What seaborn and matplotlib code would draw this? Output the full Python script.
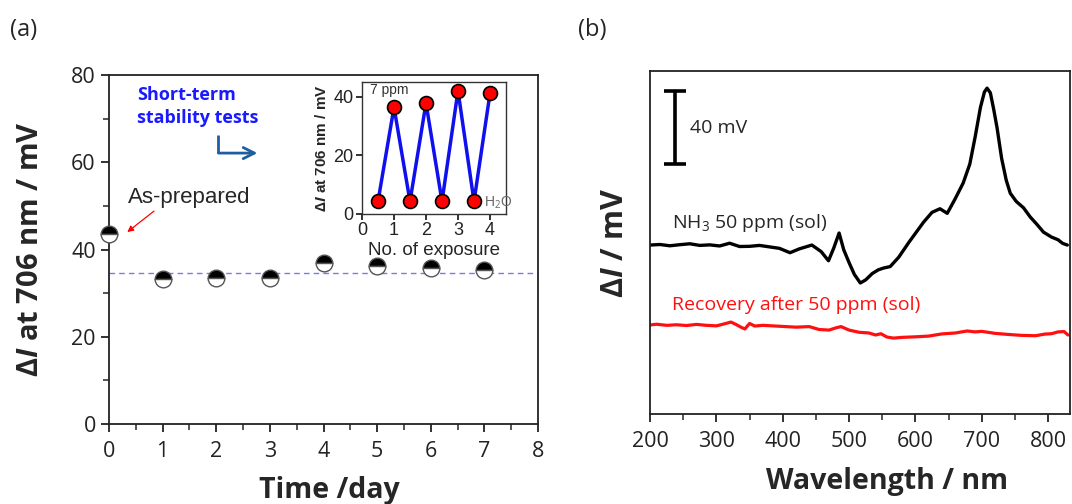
import matplotlib
matplotlib.use("Agg")
import matplotlib.pyplot as plt
import seaborn as sns
import numpy as np
import pandas as pd

# ---------------- data ----------------
days = [0, 1, 2, 3, 4, 5, 6, 7]
delta_I = [43.5, 33.2, 33.4, 33.5, 36.8, 36.2, 35.7, 35.4]
delta_I_err = [1.2, 1.0, 1.0, 1.0, 1.1, 1.1, 1.0, 1.0]
mean_level = 34.7

exposure = [0.5, 1.0, 1.5, 2.0, 2.5, 3.0, 3.5, 4.0]
inset_dI = [4.3, 36.4, 4.3, 37.8, 4.3, 42.0, 4.3, 41.1]

wl_nh3 = [200, 215, 230, 245, 260, 275, 290, 305, 320, 335, 350, 365, 380, 395, 411,
          425, 444, 458, 469, 477, 485, 492, 500, 508, 517, 525, 535, 544, 552, 562,
          575, 590, 600, 612, 625, 637, 648, 660, 672, 682, 690, 698, 704, 708, 713,
          718, 723, 730, 737, 743, 752, 763, 773, 783, 793, 805, 815, 822, 829]
sig_nh3 = [92.6, 92.9, 92.2, 92.8, 93.3, 92.4, 92.7, 92.1, 93.6, 91.8, 91.9, 92.4, 91.6, 90.8, 88.4,
           90.5, 92.6, 89.0, 84.0, 91.0, 99.2, 90.0, 83.0, 76.5, 71.8, 73.5, 77.0, 79.0, 80.0, 80.8,
           86.0, 94.0, 99.0, 105.0, 110.5, 112.5, 110.0, 118.0, 126.6, 137.0, 151.8, 168.0, 176.5, 178.6, 176.0,
           167.0, 157.0, 140.0, 128.0, 121.0, 116.5, 113.0, 108.0, 104.0, 99.7, 97.0, 95.5, 93.5, 92.6]

wl_rec = [200, 210, 225, 240, 255, 270, 285, 300, 312, 322, 330, 337, 343, 350, 358,
          370, 385, 400, 420, 440, 455, 470, 480, 488, 500, 515, 530, 540, 548, 557,
          567, 580, 600, 620, 640, 660, 678, 690, 700, 720, 740, 760, 781, 795, 805,
          815, 824, 830]
sig_rec = [48.8, 49.2, 48.6, 48.9, 48.5, 49.1, 48.6, 48.3, 49.4, 50.4, 49.0, 47.6, 46.6, 49.6, 48.2,
           48.6, 48.3, 48.0, 47.6, 47.9, 46.3, 46.0, 47.2, 47.9, 46.0, 44.8, 44.4, 43.3, 44.0, 42.2,
           41.6, 42.0, 42.3, 42.7, 43.9, 44.4, 45.5, 45.0, 45.3, 44.2, 43.6, 43.1, 42.9, 43.8, 44.0,
           45.0, 45.2, 43.3]

# ---------------- style ----------------
sns.set_theme(style="ticks")
plt.rcParams["font.family"] = ["Open Sans", "DejaVu Sans"]
plt.rcParams["mathtext.fontset"] = "custom"
plt.rcParams["mathtext.rm"] = "Open Sans"
plt.rcParams["mathtext.it"] = "Open Sans:italic"
plt.rcParams["mathtext.bf"] = "Open Sans:bold"
plt.rcParams["mathtext.bfit"] = "Open Sans:bold:italic"
plt.rcParams["axes.linewidth"] = 1.3
plt.rcParams["xtick.major.width"] = 1.3
plt.rcParams["ytick.major.width"] = 1.3
plt.rcParams["xtick.minor.width"] = 1.1
plt.rcParams["ytick.minor.width"] = 1.1

W, H = 1072, 504
fig = plt.figure(figsize=(W / 100, H / 100), dpi=100)

def px_axes(x0, y0, x1, y1):
    return [x0 / W, 1 - y1 / H, (x1 - x0) / W, (y1 - y0) / H]

ax1 = fig.add_axes(px_axes(109, 75, 538, 424))
ax2 = fig.add_axes(px_axes(650, 71, 1070, 414))
axin = fig.add_axes(px_axes(362, 82, 506, 214))

# ---------------- panel (a) ----------------
df_a = pd.DataFrame({"day": days, "dI": delta_I, "err": delta_I_err})
eb = ax1.errorbar(df_a["day"], df_a["dI"], yerr=df_a["err"], fmt="none",
                  ecolor="#9a9a9a", elinewidth=1.0, capsize=3, capthick=1.0, zorder=2)
for art in eb.get_children():
    art.set_clip_on(False)
sns.lineplot(data=df_a, x="day", y="dI", ax=ax1, linestyle="", marker="o",
             markersize=12, fillstyle="top", markerfacecolor="black",
             markerfacecoloralt="white", markeredgecolor="#555555",
             markeredgewidth=1.0, zorder=3, clip_on=False)
ax1.axhline(mean_level, color="#7a7aee", lw=1.0, ls=(0, (4, 3)), zorder=1)
ax1.set_xlim(0, 8)
ax1.set_ylim(0, 80)
ax1.set_xticks(range(0, 9))
ax1.set_yticks(range(0, 81, 20))
ax1.set_xticks(np.arange(0.5, 8, 1), minor=True)
ax1.set_yticks(range(10, 80, 20), minor=True)
ax1.tick_params(which="major", direction="out", length=6, labelsize=15.5, colors="#222222")
ax1.tick_params(which="minor", direction="out", length=4)
ax1.tick_params(axis="x", pad=6)
for s in ax1.spines.values():
    s.set_color("#222222")
ax1.set_xlabel("Time /day", fontsize=20.5, fontweight="bold")
ax1.xaxis.set_label_coords(0.513, -0.148)
ax1.set_ylabel(r"$\mathbf{\Delta}\mathbfit{I}$ at 706 nm / mV", fontsize=21,
               fontweight="bold", labelpad=19)

ax1.text(0.35, 52, "As-prepared", fontsize=16, family=["Liberation Sans"], va="center")
ax1.annotate("", xy=(0.3, 43.6), xytext=(0.88, 49.2),
             arrowprops=dict(arrowstyle="-|>", color="red", lw=0.9, mutation_scale=9))
ax1.text(0.52, 75.4, "Short-term", color="#1a1aff", fontsize=13, fontweight="bold", va="center")
ax1.text(0.52, 70.1, "stability tests", color="#1a1aff", fontsize=13, fontweight="bold", va="center")
ax1.plot([2.03, 2.03], [66.2, 62.1], color="#1f5f9f", lw=2.0, solid_capstyle="butt")
ax1.annotate("", xy=(2.82, 62.1), xytext=(1.99, 62.1),
             arrowprops=dict(arrowstyle="->", color="#1f5f9f", lw=2.0, mutation_scale=20))

# inset
df_in = pd.DataFrame({"n": exposure, "dI": inset_dI})
sns.lineplot(data=df_in, x="n", y="dI", ax=axin, color="#1010ee", lw=2.5,
             sort=False, estimator=None, marker="o", markersize=10,
             markerfacecolor="red", markeredgecolor="black", markeredgewidth=1.2)
axin.set_xlim(0, 4.5)
axin.set_ylim(0, 45)
axin.set_xticks(range(0, 5))
axin.set_yticks([0, 20, 40])
axin.tick_params(direction="out", length=4, labelsize=13, pad=2, colors="#222222")
for lab in axin.get_xticklabels() + axin.get_yticklabels():
    lab.set_family(["Liberation Sans"])
axin.set_xlabel("No. of exposure", fontsize=13.5, family=["Liberation Sans"], labelpad=2)
axin.set_ylabel(r"$\mathbf{\Delta}\mathbfit{I}$ at 706 nm / mV", fontsize=11,
                fontweight="bold", family=["Liberation Sans"], labelpad=3)
axin.text(0.25, 42.3, "7 ppm", fontsize=10, family=["Liberation Sans"], va="center", color="#333333")
axin.text(3.8, 3.9, r"H$_2$O", fontsize=10, family=["Liberation Sans"], va="center", color="#666666")
for s in axin.spines.values():
    s.set_color("#333333")
    s.set_linewidth(1.0)

# ---------------- panel (b) ----------------
df_b1 = pd.DataFrame({"wl": wl_nh3, "sig": sig_nh3})
df_b2 = pd.DataFrame({"wl": wl_rec, "sig": sig_rec})
sns.lineplot(data=df_b1, x="wl", y="sig", ax=ax2, color="black", lw=2.4,
             sort=False, estimator=None)
sns.lineplot(data=df_b2, x="wl", y="sig", ax=ax2, color="#ff1010", lw=2.3,
             sort=False, estimator=None)
ax2.set_xlim(200, 833)
ax2.set_ylim(0, 188)
ax2.set_xticks(range(200, 801, 100))
ax2.set_xticks(range(250, 833, 100), minor=True)
ax2.set_yticks([])
ax2.tick_params(which="major", direction="out", length=6, labelsize=15.5, colors="#222222")
ax2.tick_params(which="minor", direction="out", length=4)
ax2.tick_params(axis="x", pad=6)
for s in ax2.spines.values():
    s.set_color("#222222")
ax2.set_xlabel("Wavelength / nm", fontsize=20.5, fontweight="bold")
ax2.xaxis.set_label_coords(0.564, -0.155)
ax2.set_ylabel(r"$\mathbf{\Delta}\mathbfit{I}$ / mV", fontsize=22, fontweight="bold")
ax2.yaxis.set_label_coords(-0.048, 0.5)

# scale bar 40 mV
ax2.errorbar([238], [157], yerr=[20], fmt="none", ecolor="black", elinewidth=2.6,
             capsize=8, capthick=2.6)
ax2.text(260, 157, "40 mV", fontsize=14, va="center")
ax2.text(233, 104.7, r"NH$_3$ 50 ppm (sol)", fontsize=14, va="center")
ax2.text(233, 59.7, "Recovery after 50 ppm (sol)", fontsize=14, va="center", color="#ff1010")

fig.text(10 / W, 1 - 30 / H, "(a)", fontsize=17, va="center")
fig.text(578 / W, 1 - 30 / H, "(b)", fontsize=17, va="center")

fig.savefig("out.png", dpi=100)
